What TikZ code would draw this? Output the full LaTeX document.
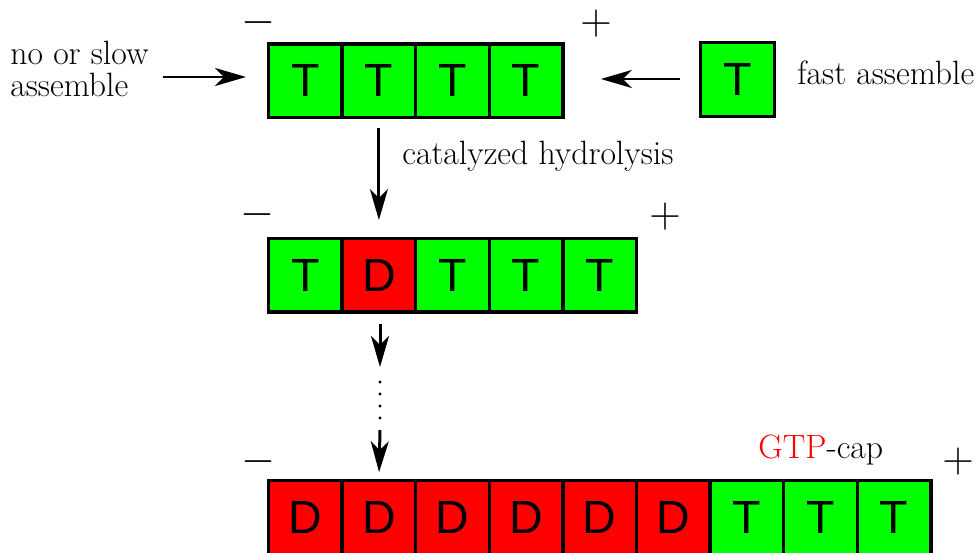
\documentclass[tikz,border=0pt]{standalone}
\usepackage{fontspec}
\newfontfamily\cellfont{Liberation Sans}
\usetikzlibrary{arrows.meta}
\definecolor{tgreen}{RGB}{0,255,0}
\definecolor{dred}{RGB}{255,0,0}
\begin{document}
\begin{tikzpicture}[x=0.02cm, y=-0.02cm,
  cell/.style={draw, line width=1.9pt, minimum size=1.472cm, inner sep=0pt, outer sep=0pt,
    font=\cellfont\fontsize{26.5}{26.5}\selectfont},
  lbl/.style={inner sep=0pt, font=\fontsize{19.2}{20}\selectfont},
  sign/.style={inner sep=0pt, font=\Huge},
  arr/.style={line width=1.7pt, -{Stealth[length=0.62cm, width=0.36cm, inset=0.18cm]}}]
\useasboundingbox (0,0) rectangle (976,553);
% row 1
\foreach \l/\c [count=\i from 0] in {T/tgreen,T/tgreen,T/tgreen,T/tgreen}
  \node[cell, fill=\c] (a\i) at (305.3+73.6*\i, 80.8) {\l};
\node[cell, fill=tgreen] (single) at (737.5, 79.5) {T};
% row 2
\foreach \l/\c [count=\i from 0] in {T/tgreen,D/dred,T/tgreen,T/tgreen,T/tgreen}
  \node[cell, fill=\c] (b\i) at (305.3+73.6*\i, 275.3) {\l};
% row 3
\foreach \l/\c [count=\i from 0] in {D/dred,D/dred,D/dred,D/dred,D/dred,D/dred,T/tgreen,T/tgreen,T/tgreen}
  \node[cell, fill=\c] (c\i) at (305.3+73.6*\i, 517.5) {\l};
% signs
\node[sign] (m1) at (258.5,23) {$-$};
\node[sign] (p1) at (596,24) {$+$};
\node[sign] (m2) at (257.5,215) {$-$};
\node[sign] (p2) at (665,217) {$+$};
\node[sign] (m3) at (258,462) {$-$};
\node[sign] (p3) at (958,462) {$+$};
% labels
\node[lbl, anchor=base west] (nos1) at (10,65) {no or slow};
\node[lbl, anchor=base west] (nos2) at (10,97) {assemble};
\node[lbl, anchor=base west] (fast) at (797,85) {fast assemble};
\node[lbl, anchor=base west] (cat) at (402,165) {catalyzed hydrolysis};
\node[lbl, anchor=base west] (gtp) at (758,458) {{\color{dred}GTP}-cap};
% arrows
\coordinate (l1) at (163,77);
\draw[arr, shorten >=0.45cm] (l1) -- (a0.west |- l1);
\coordinate (r1) at (680,79);
\draw[arr, shorten >=0.76cm] (r1) -- (a3.east |- r1);
\draw[arr, shorten <=0.2cm, shorten >=0.37cm] (a1.south) -- (b1.north);
\coordinate (v1) at (380,324);
\coordinate (v2) at (380,367);
\draw[arr] (v1) -- (v2);
\coordinate (v3) at (380,430);
\draw[arr, shorten >=0.17cm] (v3) -- (c1.north);
\foreach \y in {382,394,406,418}
  \fill (380,\y) circle (1.6);
\end{tikzpicture}
\end{document}
